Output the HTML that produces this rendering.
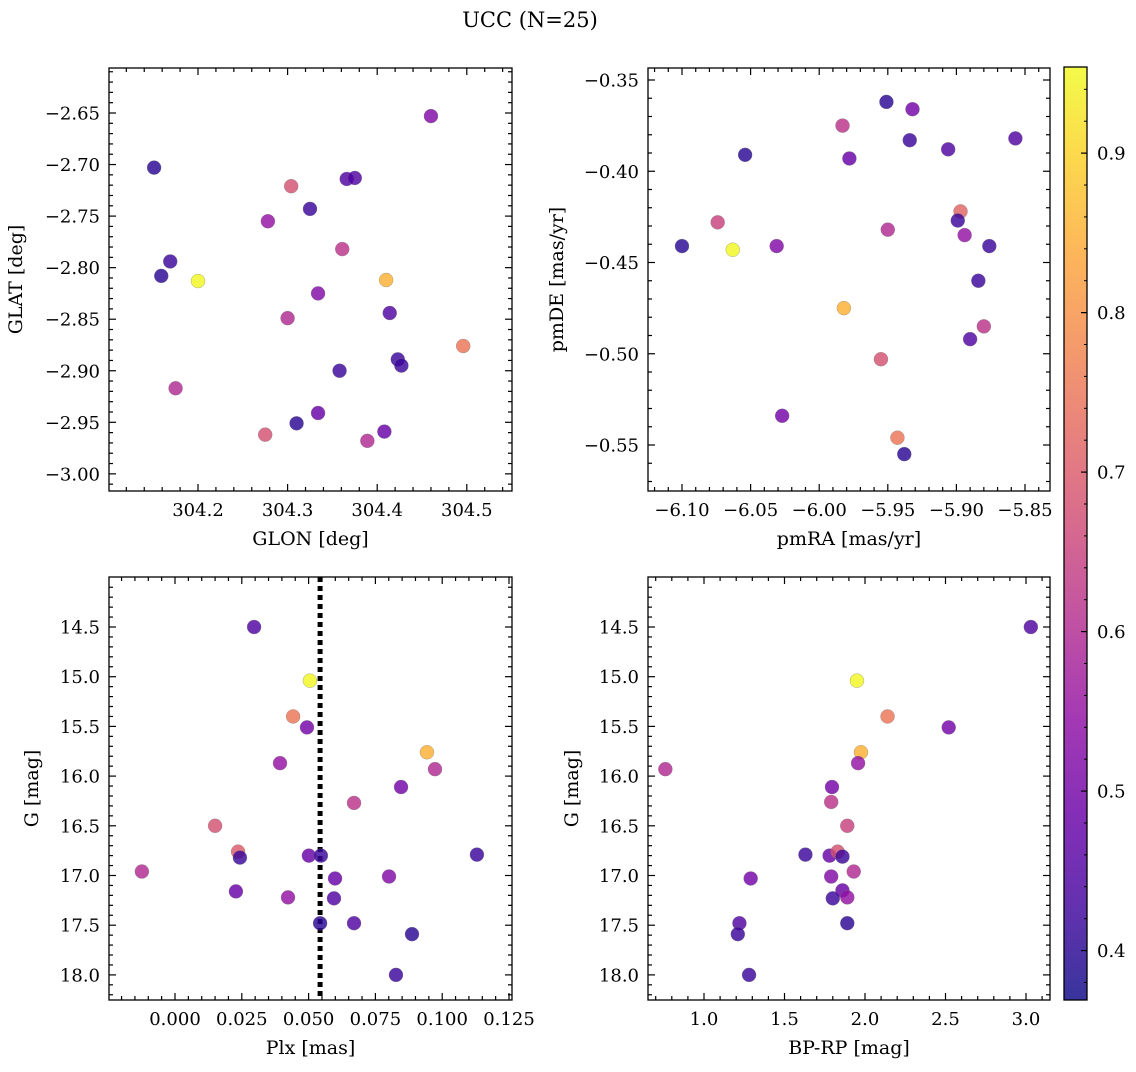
<!DOCTYPE html>
<html><head><meta charset="utf-8"><style>
html,body{margin:0;padding:0;background:#fff;}
svg text{font-family:"DejaVu Serif","Liberation Serif",serif;fill:#000;}
</style></head><body>
<svg id="fig" width="1136" height="1067" xmlns="http://www.w3.org/2000/svg">
<text x="530" y="27" font-size="21" text-anchor="middle">UCC (N=25)</text>
</svg>
<script>
// Panel 1: GLON / GLAT
const p1Lon=[304.151,304.159,304.169,304.200,304.175,304.278,304.304,304.325,304.300,304.275,304.310,304.366,304.375,304.361,304.334,304.334,304.358,304.389,304.408,304.410,304.414,304.423,304.427,304.460,304.496];
const p1Lat=[-2.703,-2.808,-2.794,-2.813,-2.917,-2.755,-2.721,-2.743,-2.849,-2.962,-2.951,-2.714,-2.713,-2.782,-2.825,-2.941,-2.900,-2.968,-2.959,-2.812,-2.844,-2.889,-2.895,-2.653,-2.876];
const p1C=[0.40,0.40,0.42,0.95,0.60,0.55,0.68,0.42,0.60,0.68,0.40,0.45,0.45,0.62,0.52,0.48,0.42,0.60,0.48,0.85,0.45,0.42,0.42,0.52,0.75];
// Panel 2: pmRA / pmDE
const p2RA=[-6.100,-6.074,-6.054,-6.063,-6.031,-6.027,-5.983,-5.978,-5.982,-5.951,-5.950,-5.955,-5.932,-5.934,-5.943,-5.938,-5.906,-5.897,-5.899,-5.894,-5.876,-5.884,-5.880,-5.890,-5.857];
const p2DE=[-0.441,-0.428,-0.391,-0.443,-0.441,-0.534,-0.375,-0.393,-0.475,-0.362,-0.432,-0.503,-0.366,-0.383,-0.546,-0.555,-0.388,-0.422,-0.427,-0.435,-0.441,-0.460,-0.485,-0.492,-0.382];
const p2C=[0.40,0.65,0.40,0.95,0.52,0.50,0.62,0.48,0.85,0.40,0.60,0.68,0.50,0.42,0.75,0.40,0.45,0.72,0.42,0.55,0.42,0.42,0.62,0.45,0.45];
// Panel 3: Plx / G
const p3Plx=[0.0296,0.0505,0.0442,0.0494,0.0393,0.0943,0.0973,0.0846,0.0670,0.0150,0.0236,0.0243,0.0501,0.0546,0.1130,-0.0124,0.0599,0.0801,0.0228,0.0423,0.0595,0.0543,0.0670,0.0887,0.0827];
const p3G=[14.50,15.04,15.40,15.51,15.87,15.76,15.93,16.11,16.27,16.50,16.76,16.82,16.80,16.80,16.79,16.96,17.03,17.01,17.16,17.22,17.23,17.48,17.48,17.59,18.00];
const p3C=[0.45,0.95,0.75,0.50,0.55,0.85,0.60,0.50,0.62,0.68,0.70,0.42,0.48,0.42,0.42,0.60,0.48,0.52,0.48,0.55,0.45,0.40,0.45,0.40,0.42];
const plxLine=0.0543;
// Panel 4: BP-RP / G
const p4BR=[3.03,1.95,2.14,2.52,1.975,1.957,0.76,1.795,1.79,1.89,1.63,1.78,1.83,1.86,1.93,1.79,1.29,1.86,1.89,1.80,1.22,1.21,1.89,1.28];
const p4G=[14.50,15.04,15.40,15.51,15.76,15.87,15.93,16.11,16.26,16.50,16.79,16.80,16.76,16.81,16.96,17.01,17.03,17.15,17.22,17.23,17.48,17.59,17.48,18.00];
const p4C=[0.45,0.95,0.75,0.50,0.85,0.55,0.60,0.50,0.62,0.65,0.42,0.48,0.68,0.42,0.60,0.52,0.50,0.48,0.55,0.42,0.45,0.42,0.40,0.42];
const cbTicks=[0.4,0.5,0.6,0.7,0.8,0.9];

const NS='http://www.w3.org/2000/svg';
const svg=document.getElementById('fig');
function mk(tag,attrs,parent){const e=document.createElementNS(NS,tag);for(const k in attrs)e.setAttribute(k,attrs[k]);(parent||svg).appendChild(e);return e;}
const VMIN=0.369,VMAX=0.954;
const stops=[[13,8,135],[65,4,157],[106,0,168],[143,13,164],[177,42,144],[204,71,120],[225,100,98],[242,132,75],[252,166,54],[252,206,37],[240,249,33]];
function plasma(t){t=Math.max(0,Math.min(1,t))*10;const i=Math.min(9,Math.floor(t)),f=t-i;const a=stops[i],b=stops[i+1];return 'rgb('+a.map((v,k)=>Math.round(v+(b[k]-v)*f)).join(',')+')';}
function col(v){return plasma((v-VMIN)/(VMAX-VMIN));}
const fmtNum=(v,d)=>(v<0?'\u2212':'')+Math.abs(v).toFixed(d);

function panel(cfg){
  const g=mk('g',{});
  
  
  const [L,T,R,B]=cfg.box;
  const X=v=>cfg.x0+(v-cfg.xv0)*cfg.xs, Y=v=>cfg.y0+(v-cfg.yv0)*cfg.ys;
  const eps=1e-9;
  for(let v=cfg.xmin;v<=cfg.xmax+eps;v+=cfg.xminor){
    const px=X(v); if(px<L+1||px>R-1)continue;
    const major=Math.abs(Math.round(v/cfg.xmajor)*cfg.xmajor-v)<cfg.xminor/10;
    const len=major?7:4;
    mk('line',{x1:px,x2:px,y1:B,y2:B-len,stroke:'#000','stroke-width':1.2},g);
    mk('line',{x1:px,x2:px,y1:T,y2:T+len,stroke:'#000','stroke-width':1.2},g);
    if(major){const t=mk('text',{x:px,y:B+25,'font-size':18,'text-anchor':'middle'},g);t.textContent=fmtNum(Math.round(v/cfg.xmajor)*cfg.xmajor,cfg.xd);
      }
  }
  for(let v=cfg.ymin;v<=cfg.ymax+eps;v+=cfg.yminor){
    const py=Y(v); if(py<T+1||py>B-1)continue;
    const major=Math.abs(Math.round(v/cfg.ymajor)*cfg.ymajor-v)<cfg.yminor/10;
    const len=major?7:4;
    mk('line',{x1:L,x2:L+len,y1:py,y2:py,stroke:'#000','stroke-width':1.2},g);
    mk('line',{x1:R,x2:R-len,y1:py,y2:py,stroke:'#000','stroke-width':1.2},g);
    if(major){const t=mk('text',{x:L-9,y:py+6.5,'font-size':18,'text-anchor':'end'},g);t.textContent=fmtNum(Math.round(v/cfg.ymajor)*cfg.ymajor,cfg.yd);
      }
  }
  if(cfg.vline!==undefined){
    const l=mk('line',{x1:X(cfg.vline),x2:X(cfg.vline),y1:T,y2:B,stroke:'#000','stroke-width':5,'stroke-dasharray':'5,4'},g);
    
  }
  for(let i=0;i<cfg.xs_.length;i++){
    const c=mk('circle',{cx:X(cfg.xs_[i]),cy:Y(cfg.ys_[i]),r:7,fill:col(cfg.cs[i]),'fill-opacity':0.82,stroke:'#777','stroke-width':0.3},g);
    
    
  }
  mk('rect',{x:L,y:T,width:R-L,height:B-T,fill:'none',stroke:'#000','stroke-width':1.3},g);
  const xl=mk('text',{x:(L+R)/2,y:B+54,'font-size':19,'text-anchor':'middle'},g);xl.textContent=cfg.xlabel;
  
  const yx=cfg.ylx;
  const yl=mk('text',{x:yx,y:(T+B)/2,'font-size':19,'text-anchor':'middle',transform:'rotate(-90 '+yx+' '+(T+B)/2+')'},g);yl.textContent=cfg.ylabel;
  
}
panel({name:'glon-glat-panel',box:[109,68,512,491],x0:198,xv0:304.2,xs:896,y0:113,yv0:-2.65,ys:-1031,
  xmin:304.10,xmax:304.56,xmajor:0.1,xminor:0.02,xd:1,ymin:-3.02,ymax:-2.60,ymajor:0.05,yminor:0.01,yd:2,
  xs_:p1Lon,ys_:p1Lat,cs:p1C,xlabel:'GLON [deg]',ylabel:'GLAT [deg]',ylx:22});
panel({name:'pm-panel',box:[648,68,1050,491],x0:682,xv0:-6.10,xs:1372,y0:80,yv0:-0.35,ys:-1825,
  xmin:-6.13,xmax:-5.82,xmajor:0.05,xminor:0.01,xd:2,ymin:-0.58,ymax:-0.34,ymajor:0.05,yminor:0.01,yd:2,
  xs_:p2RA,ys_:p2DE,cs:p2C,xlabel:'pmRA [mas/yr]',ylabel:'pmDE [mas/yr]',ylx:563});
panel({name:'plx-g-panel',box:[109,577,512,1000],x0:175,xv0:0,xs:2672,y0:627,yv0:14.5,ys:99.4,
  xmin:-0.025,xmax:0.13,xmajor:0.025,xminor:0.005,xd:3,ymin:14.1,ymax:18.3,ymajor:0.5,yminor:0.1,yd:1,
  xs_:p3Plx,ys_:p3G,cs:p3C,vline:plxLine,xlabel:'Plx [mas]',ylabel:'G [mag]',ylx:38});
panel({name:'color-mag-panel',box:[648,577,1050,1000],x0:704,xv0:1.0,xs:161,y0:627,yv0:14.5,ys:99.4,
  xmin:0.6,xmax:3.3,xmajor:0.5,xminor:0.1,xd:1,ymin:14.1,ymax:18.3,ymajor:0.5,yminor:0.1,yd:1,
  xs_:p4BR,ys_:p4G,cs:p4C,xlabel:'BP-RP [mag]',ylabel:'G [mag]',ylx:578});

// colorbar
const cb=mk('g',{});


const defs=mk('defs',{},cb);
const lg=mk('linearGradient',{id:'cbg',x1:0,y1:1,x2:0,y2:0},defs);
for(let i=0;i<=20;i++){mk('stop',{offset:i/20,'stop-color':plasma(i/20)},lg);}
const CT=67,CB=1000,CL=1064,CR=1087;
mk('rect',{x:CL,y:CT,width:CR-CL,height:CB-CT,fill:'url(#cbg)',opacity:0.82},cb);
const CY=v=>CB-(v-VMIN)/(VMAX-VMIN)*(CB-CT);
for(let v=0.38;v<=0.95;v+=0.02){const py=CY(v);mk('line',{x1:CR,x2:CR-3,y1:py,y2:py,stroke:'#000','stroke-width':1},cb);}
cbTicks.forEach(v=>{const py=CY(v);mk('line',{x1:CR,x2:CR-6,y1:py,y2:py,stroke:'#000','stroke-width':1.2},cb);
  const t=mk('text',{x:CR+10,y:py+6.5,'font-size':18},cb);t.textContent=v.toFixed(1);
  });
mk('rect',{x:CL,y:CT,width:CR-CL,height:CB-CT,fill:'none',stroke:'#000','stroke-width':1.3},cb);
</script>
</body></html>
